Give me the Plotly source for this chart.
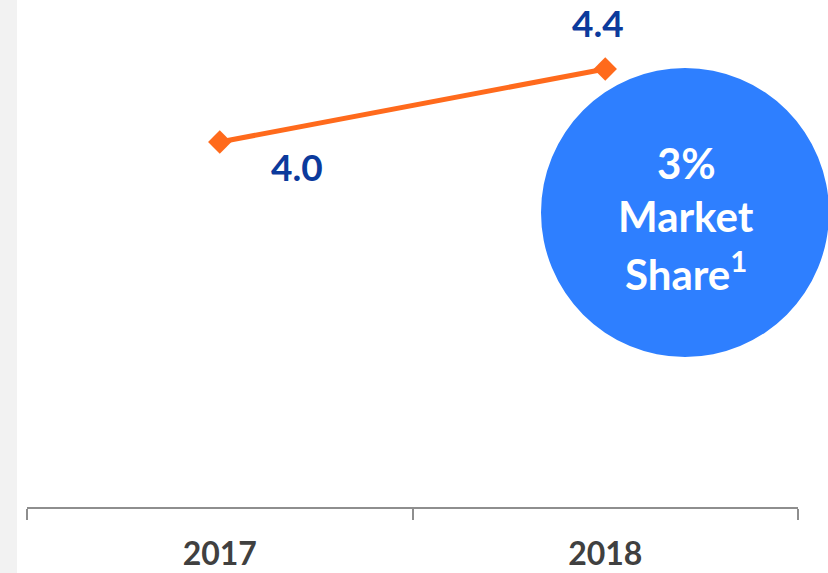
import plotly.graph_objects as go

years = ["2017", "2018"]
values = [4.0, 4.4]
value_labels = ["4.0", "4.4"]
bubble_lines = ["3%", "Market", "Share<sup>1</sup>"]

W, H = 828, 573
ml, mr, mt, mb = 27, 30, 0, 66
pw, ph = W - ml - mr, H - mt - mb
xi = list(range(len(years)))

def px(x):
    return (x - ml) / pw

def py(y):
    return (H - mb - y) / ph

fig = go.Figure()
fig.add_trace(go.Scatter(
    x=xi, y=values, mode="lines+markers",
    line=dict(color="#ff6a1c", width=5),
    marker=dict(symbol="diamond", size=18, color="#ff6a1c"),
    hoverinfo="skip", showlegend=False, cliponaxis=False,
))

font_main = "Lato, 'Open Sans', sans-serif"
label_offsets = [(77, -24), (-7, 47)]
for x, v, t, (dx, dy) in zip(xi, values, value_labels, label_offsets):
    fig.add_annotation(x=x, y=v, text=t, showarrow=False, xshift=dx, yshift=dy,
                       font=dict(family=font_main, size=37, color="#0b3a9c", weight="bold"))

shapes = [
    dict(type="rect", xref="paper", yref="paper", x0=px(0), x1=px(17), y0=py(573), y1=py(0),
         fillcolor="#f2f2f2", line=dict(width=0), layer="below"),
    dict(type="circle", xref="paper", yref="paper", x0=px(541), x1=px(829), y0=py(357), y1=py(68),
         fillcolor="#2e7fff", line=dict(width=0), layer="above"),
]

for txt, yc in zip(bubble_lines, [163, 216, 271]):
    fig.add_annotation(xref="paper", yref="paper", x=px(686), y=py(yc), text=txt, showarrow=False,
                       xanchor="center", yanchor="middle",
                       font=dict(family=font_main, size=42, color="white", weight="bold"))

fig.update_layout(
    width=W, height=H, margin=dict(l=ml, r=mr, t=mt, b=mb, autoexpand=False),
    paper_bgcolor="white", plot_bgcolor="white", shapes=shapes,
    xaxis=dict(range=[-0.5, len(years) - 0.5], tickvals=xi, ticktext=years,
               showgrid=False, showline=True, linecolor="#8e8e8e", linewidth=1.5,
               ticks="outside", ticklen=0, tickcolor="rgba(0,0,0,0)",
               minor=dict(tick0=-0.5, dtick=1, ticks="outside", ticklen=11,
                          tickcolor="#8e8e8e", tickwidth=1.5, showgrid=False),
               tickfont=dict(family=font_main, size=32, color="#404040", weight="bold"),
               tickangle=0, automargin=False, ticklabelstandoff=18, zeroline=False,
               fixedrange=True),
    yaxis=dict(range=[2.0, 2.0 + ph / 182.5], visible=False, showgrid=False, zeroline=False,
               fixedrange=True),
)

fig.write_html("out.html", config={"displayModeBar": False},
               post_script="document.body.style.margin='0';document.body.style.overflow='hidden';")
